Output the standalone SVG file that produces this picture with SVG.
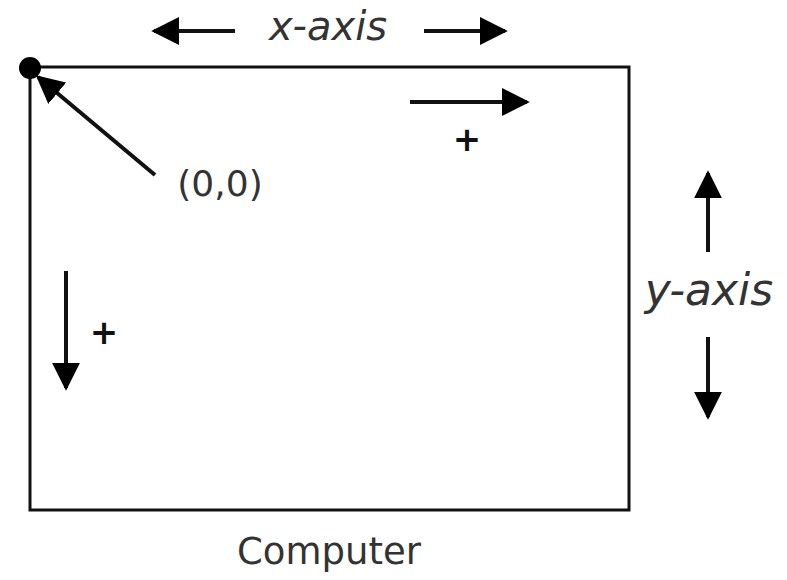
<svg xmlns="http://www.w3.org/2000/svg" width="787" height="580" viewBox="0 0 787 580">
<defs>
<marker id="ahL" viewBox="0 0 10 10" refX="9" refY="5" markerWidth="28" markerHeight="28" markerUnits="userSpaceOnUse" orient="auto">
<path d="M0,0 L10,5 L0,10 z" fill="#000"/>
</marker>
</defs>
<style>
.lbl{font-family:"DejaVu Sans","Liberation Sans",sans-serif;font-style:italic;fill:#333;}
.up{font-family:"DejaVu Sans","Liberation Sans",sans-serif;font-style:normal;fill:#333;}
.pl{font-family:"DejaVu Sans","Liberation Sans",sans-serif;font-weight:bold;fill:#111;}
.ln{stroke:#111;stroke-width:4;fill:none;}
</style>
<rect width="787" height="580" fill="#fff"/>
<g id="screen">
<rect x="30" y="67" width="599" height="443" fill="none" stroke="#111" stroke-width="3"/>
<circle cx="30" cy="68" r="11" fill="#000"/>
</g>
<g id="connectors">
<line class="ln" x1="235" y1="31" x2="154" y2="31" marker-end="url(#ahL)"/>
<line class="ln" x1="424" y1="31" x2="505" y2="31" marker-end="url(#ahL)"/>
<line class="ln" x1="410" y1="102" x2="527" y2="102" marker-end="url(#ahL)"/>
<line class="ln" x1="155" y1="175" x2="38" y2="77" marker-end="url(#ahL)"/>
<line class="ln" x1="708" y1="252" x2="708" y2="173" marker-end="url(#ahL)"/>
<line class="ln" x1="708" y1="337" x2="708" y2="417" marker-end="url(#ahL)"/>
<line class="ln" x1="66" y1="271" x2="66" y2="388" marker-end="url(#ahL)"/>
</g>
<g id="x-axis-label"><text class="lbl" x="328" y="40" font-size="40" text-anchor="middle">x-axis</text></g>
<g id="origin-label"><text class="up" x="220" y="196" font-size="36" text-anchor="middle">(0,0)</text></g>
<g id="x-plus"><text class="pl" x="467" y="151" font-size="34" text-anchor="middle">+</text></g>
<g id="y-axis-label"><text class="lbl" x="709" y="305" font-size="44" text-anchor="middle">y-axis</text></g>
<g id="y-plus"><text class="pl" x="104" y="344" font-size="34" text-anchor="middle">+</text></g>
<g id="computer-label"><text class="up" x="329" y="564" font-size="37" text-anchor="middle">Computer</text></g>
</svg>
